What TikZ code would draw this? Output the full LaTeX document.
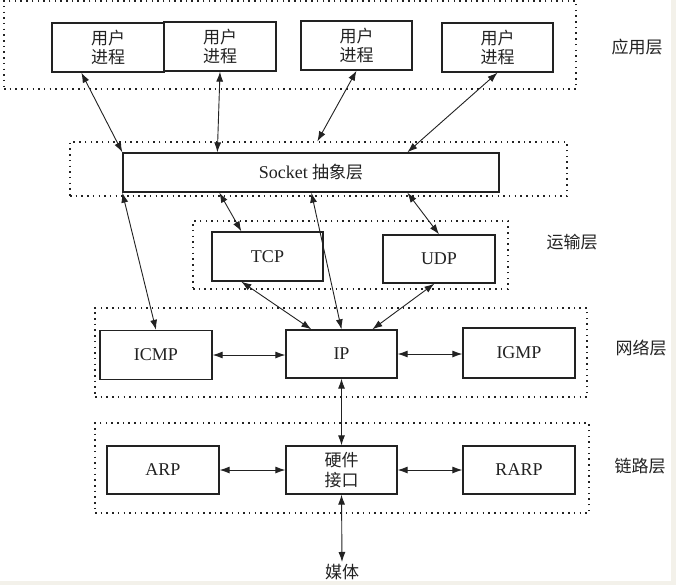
\documentclass[tikz,border=0pt]{standalone}
\usepackage{fontspec}
\setmainfont{Liberation Serif}
\newfontfamily\cjk{Noto Sans CJK SC}
\usetikzlibrary{arrows.meta,calc}
\definecolor{edgebg}{HTML}{F3F1EA}
\definecolor{ink}{HTML}{222222}
\tikzset{
  box/.style={draw=ink, line width=1.3pt, fill=white, inner sep=0pt,
    minimum width=112pt, minimum height=49pt, align=center, text=ink,
    font=\fontsize{18}{19}\selectfont},
  grp/.style={draw=ink, line width=1.3pt, dash pattern=on 1.5pt off 4.2pt, inner sep=0pt},
  conn/.style={line width=0.9pt, draw=ink, {Latex[length=10pt,width=7pt]}-{Latex[length=10pt,width=7pt]}},
  lbl/.style={font=\cjk\fontsize{17}{19}\selectfont, text=ink, inner sep=2pt},
  cj/.style={font=\cjk\fontsize{17}{19.5}\selectfont}
}
\begin{document}
\begin{tikzpicture}[x=1pt,y=-1pt]
\fill[white] (0,0) rectangle (676,585);
\useasboundingbox (0,0) rectangle (676,585);
\fill[edgebg] (0,581) rectangle (676,585);
\fill[edgebg] (671,0) rectangle (676,585);

% layer groups
\node[grp, minimum width=572pt, minimum height=88pt] (appgrp) at (290,45) {};
\node[grp, minimum width=497pt, minimum height=54pt] (sockgrp) at (318.5,169) {};
\node[grp, minimum width=315pt, minimum height=68pt] (tgrp) at (350.5,255) {};
\node[grp, minimum width=492pt, minimum height=89pt] (ngrp) at (341,352.5) {};
\node[grp, minimum width=494pt, minimum height=90pt] (lgrp) at (342,468) {};

% application layer
\node[box, cj] (u1) at (108,47.5) {用户\\进程};
\node[box, cj] (u2) at (220,46.5) {用户\\进程};
\node[box, cj, minimum width=111pt] (u3) at (356.5,45.5) {用户\\进程};
\node[box, cj, minimum width=111pt] (u4) at (497.5,47.5) {用户\\进程};

% socket
\node[box, minimum width=376pt, minimum height=39pt] (sock) at (311,172.5) {Socket {\cjk\fontsize{17}{19}\selectfont 抽象层}};

% transport
\node[box, minimum width=111pt] (tcp) at (267.5,256.5) {TCP};
\node[box, minimum height=48pt] (udp) at (439,259) {UDP};

% network
\node[box] (icmp) at (156,355) {ICMP};
\node[box, minimum width=111pt, minimum height=48pt] (ip) at (341.5,354) {IP};
\node[box, minimum height=50pt] (igmp) at (519,353) {IGMP};

% link
\node[box, minimum height=48pt] (arp) at (163,470) {ARP};
\node[box, cj, minimum width=111pt, minimum height=48pt] (hw) at (341.5,470) {硬件\\接口};
\node[box, minimum height=48pt] (rarp) at (519,470) {RARP};

\node[lbl] (media) at (342,572) {媒体};

% layer labels
\node[lbl] (lapp) at (637,47) {应用层};
\node[lbl] (ltr) at (572,242) {运输层};
\node[lbl] (lnet) at (641,348) {网络层};
\node[lbl] (llink) at (640,466) {链路层};

% connectors
\draw[conn] ([xshift=30pt]u1.south west) -- (sock.north west);
\draw[conn] (u2.south) -- ([xshift=95pt]sock.north west);
\draw[conn] (u3.south) -- ([xshift=248pt]sockgrp.north west);
\draw[conn] (u4.south) -- ([xshift=285pt]sock.north west);

\draw[conn] (sock.south west) -- (icmp.north);
\draw[conn] ([xshift=97pt]sock.south west) -- ([xshift=30pt]tcp.north west);
\draw[conn] ([xshift=189pt]sock.south west) -- (ip.north);
\draw[conn] ([xshift=285pt]sock.south west) -- (udp.north);

\draw[conn] ([xshift=30pt]tcp.south west) -- ([xshift=26pt]ip.north west);
\draw[conn] ([xshift=52pt]udp.south west) -- ([xshift=87pt]ip.north west);

\draw[conn] (icmp.east) -- (icmp.east -| ip.west);
\draw[conn] (ip.east) -- (ip.east -| igmp.west);
\draw[conn] (ip.south) -- (hw.north);

\draw[conn] (arp.east) -- (hw.west);
\draw[conn] (hw.east) -- (rarp.west);
\draw[conn] (hw.south) -- (media.north);
\end{tikzpicture}
\end{document}
